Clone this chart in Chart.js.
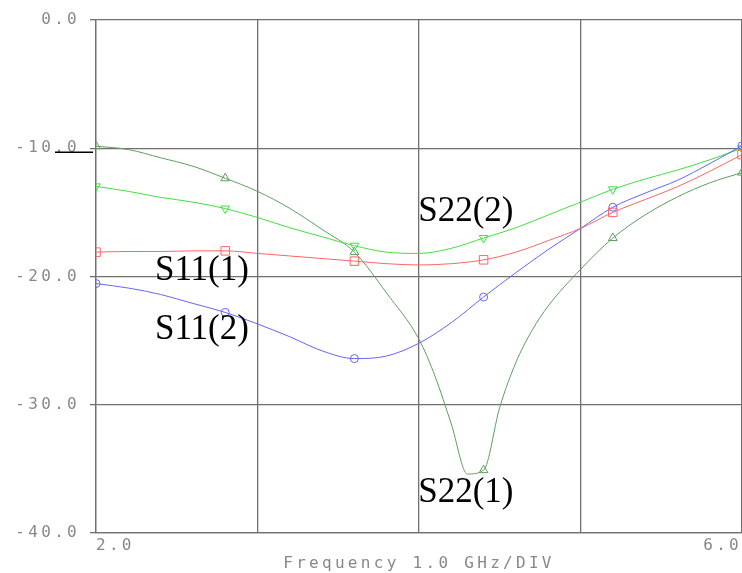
<!DOCTYPE html>
<html>
<head>
<meta charset="utf-8">
<script src="https://cdn.jsdelivr.net/npm/chart.js@4/dist/chart.umd.min.js"></script>
<style>
  html, body { margin: 0; padding: 0; background: #fff; }
</style>
</head>
<body>
<canvas id="myChart" width="742" height="573"></canvas>
<script>
// frequency points (GHz)
var freqs = [2.0, 2.2, 2.4, 2.6, 2.8, 3.0, 3.2, 3.4, 3.6, 3.8, 4.0, 4.2, 4.4, 4.6, 4.8, 5.0, 5.2, 5.4, 5.6, 5.8, 6.0];
var freqsS22_1 = [2.0, 2.2, 2.4, 2.6, 2.8, 3.0, 3.2, 3.4, 3.6, 3.8, 4.0, 4.1, 4.2, 4.3, 4.4, 4.5, 4.6, 4.7, 4.8, 5.0, 5.2, 5.4, 5.6, 5.8, 6.0];
var markerFreqs = [2.0, 2.8, 3.6, 4.4, 5.2, 6.0];

// dB values
var s11_1 = [-18.1, -18.05, -18.05, -18.0, -18.0, -18.2, -18.4, -18.6, -18.8, -19.0, -19.1, -19.0, -18.7, -18.1, -17.2, -16.25, -15.0, -14.0, -13.0, -11.8, -10.5];
var s11_2 = [-20.55, -20.9, -21.4, -22.1, -22.8, -23.7, -24.7, -25.8, -26.4, -26.2, -25.2, -23.6, -21.6, -19.7, -17.9, -16.25, -14.6, -13.5, -12.5, -11.2, -9.8];
var s22_2 = [-12.97, -13.36, -13.83, -14.2, -14.7, -15.4, -16.2, -16.9, -17.6, -18.1, -18.2, -17.8, -17.0, -16.2, -15.2, -14.2, -13.2, -12.4, -11.7, -10.9, -10.0];
var s22_1 = [-9.84, -10.1, -10.74, -11.4, -12.34, -13.36, -14.69, -16.33, -18.1, -21.3, -24.9, -27.8, -31.5, -35.4, -35.1, -30.2, -26.7, -24.2, -22.3, -19.45, -17.0, -15.2, -13.8, -12.7, -11.9];

// trace names written on the plot, placed in data units
var traceNames = ["S11(1)", "S11(2)", "S22(2)", "S22(1)"];
var nameFreq = [2.365, 2.365, 3.995, 3.995];
var nameDb = [-20.3, -24.85, -15.7, -37.55];

function toPoints(xs, ys) {
  return xs.map(function (x, i) { return {x: x, y: ys[i]}; });
}

function markerRadius(r) {
  return function (ctx) {
    return (ctx.raw && markerFreqs.indexOf(ctx.raw.x) >= 0) ? r : 0;
  };
}

function trace(data, color, style, r, rot) {
  return {
    data: data,
    borderColor: color,
    borderWidth: 1,
    pointStyle: style,
    pointRotation: rot || 0,
    pointRadius: markerRadius(r),
    pointBorderColor: color,
    pointBorderWidth: 1,
    pointBackgroundColor: "rgba(0,0,0,0)",
    showLine: true,
    cubicInterpolationMode: "monotone",
    fill: false
  };
}

var extras = {
  id: "extras",
  beforeDraw: function (chart) {
    chart.ctx.letterSpacing = "3.3px";
  },
  afterDraw: function (chart) {
    var ctx = chart.ctx, xs = chart.scales.x, ys = chart.scales.y;
    ctx.save();
    ctx.letterSpacing = "0px";
    // little reference mark at -10 dB
    ctx.strokeStyle = "#000";
    ctx.lineWidth = 1.5;
    ctx.beginPath();
    var yr = ys.getPixelForValue(-10) + 4;
    ctx.moveTo(xs.left - 41, yr);
    ctx.lineTo(xs.left - 3, yr);
    ctx.stroke();
    ctx.font = '35px "Liberation Serif"';
    ctx.fillStyle = "#000";
    ctx.textAlign = "left";
    ctx.textBaseline = "alphabetic";
    for (var i = 0; i < traceNames.length; i++) {
      ctx.fillText(traceNames[i], xs.getPixelForValue(nameFreq[i]), ys.getPixelForValue(nameDb[i]));
    }
    ctx.restore();
  }
};

new Chart("myChart", {
  type: "scatter",
  data: {
    datasets: [
      trace(toPoints(freqs, s11_1), "#ff6464", "rect", 6),
      trace(toPoints(freqs, s11_2), "#6464ff", "circle", 4),
      trace(toPoints(freqs, s22_2), "#40e040", "triangle", 5, 180),
      trace(toPoints(freqsS22_1, s22_1), "#5e9e5e", "triangle", 5)
    ]
  },
  options: {
    responsive: false,
    animation: false,
    layout: {autoPadding: false, padding: {top: 20, right: 0, left: 0, bottom: 0}},
    plugins: {
      legend: {display: false},
      tooltip: {enabled: false}
    },
    scales: {
      x: {
        type: "linear",
        min: 2, max: 6,
        afterFit: function (s) { s.height = 40; s.paddingLeft = 0; s.paddingRight = 0; },
        ticks: {
          stepSize: 1,
          align: "inner",
          maxRotation: 0,
          padding: 3,
          color: "#888",
          font: {family: "DejaVu Sans Mono", size: 16},
          callback: function (v) { return (v === 2 || v === 6) ? v.toFixed(1) : ""; }
        },
        grid: {color: "#707070", lineWidth: 1.3, drawTicks: false},
        border: {color: "#707070", width: 1.3},
        title: {
          display: true,
          text: "Frequency 1.0 GHz/DIV",
          color: "#888",
          font: {family: "DejaVu Sans Mono", size: 16},
          padding: {top: 0, bottom: 0}
        }
      },
      y: {
        min: -40, max: 0,
        afterFit: function (s) { s.width = 96; },
        ticks: {
          stepSize: 10,
          padding: 10,
          color: "#888",
          font: {family: "DejaVu Sans Mono", size: 16},
          callback: function (v) { return v.toFixed(1); }
        },
        grid: {color: "#707070", lineWidth: 1.3, tickLength: 6},
        border: {color: "#707070", width: 1.3}
      }
    }
  },
  plugins: [extras]
});
</script>
</body>
</html>
